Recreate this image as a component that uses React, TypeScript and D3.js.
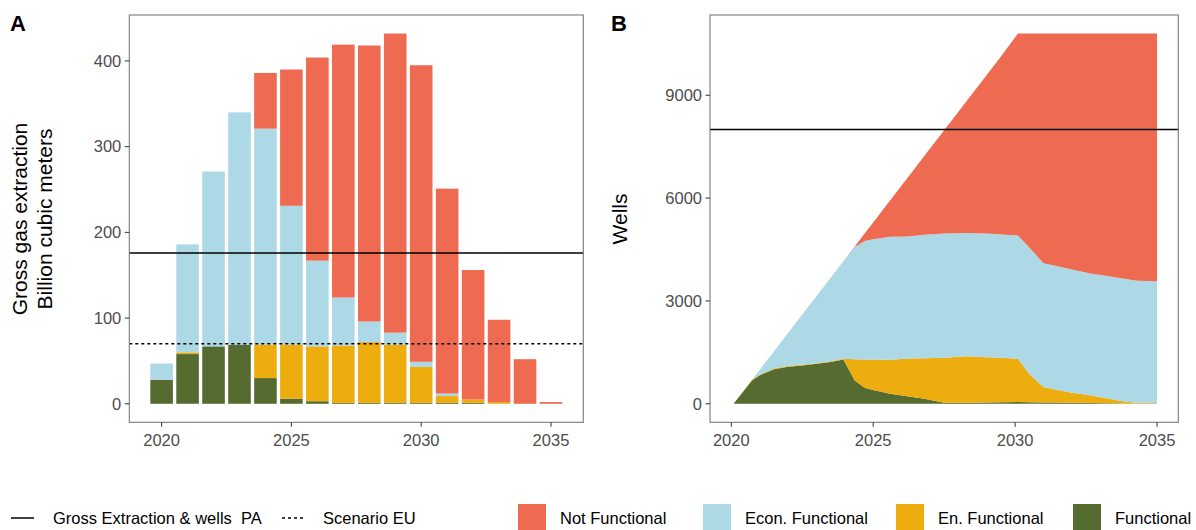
import React from 'react';
import * as d3 from 'd3';

// panel A: gas extraction per year (billion m3)
const barYears = [2020, 2021, 2022, 2023, 2024, 2025, 2026, 2027, 2028, 2029, 2030, 2031, 2032, 2033, 2034, 2035];
const barFunctional = [28, 58, 67, 69, 30, 6, 3, 1, 1, 1, 1, 1, 1, 0, 0, 0];
const barEnFunctional = [0, 2, 0, 0, 39, 63, 64, 67, 71, 68, 42, 8, 4, 2, 0, 0];
const barEconFunctional = [19, 126, 204, 271, 252, 162, 100, 56, 24, 14, 6, 3, 0, 0, 0, 0];
const barNotFunctional = [0, 0, 0, 0, 65, 159, 237, 295, 322, 349, 346, 239, 151, 96, 52, 2];

// panel B: wells
const wellYears = [2020.08, 2020.4, 2020.73, 2021, 2021.5, 2022, 2022.5, 2023, 2023.5, 2023.95, 2024.35, 2024.7, 2025, 2025.6, 2026.2, 2026.8, 2027.5, 2028.3, 2029, 2029.5, 2030.1, 2030.5, 2031, 2031.5, 2032, 2032.7, 2033.3, 2033.9, 2034.3, 2035];
const wellFunctional = [0, 340, 680, 830, 1010, 1080, 1120, 1165, 1220, 1290, 680, 467, 400, 292, 220, 146, 29, 30, 40, 45, 50, 45, 40, 35, 30, 25, 15, 8, 5, 5];
const wellEnFunctional = [0, 4, 19, 20, 20, 20, 20, 20, 20, 20, 620, 828, 890, 993, 1100, 1184, 1316, 1355, 1320, 1295, 1265, 825, 450, 365, 290, 215, 135, 52, 25, 15];
const wellEconFunctional = [0, 0, 0, 139, 497, 964, 1462, 1954, 2437, 2850, 3270, 3455, 3510, 3585, 3560, 3600, 3625, 3595, 3605, 3600, 3595, 3690, 3610, 3610, 3600, 3550, 3570, 3580, 3560, 3557];
const wellNotFunctional = [0, 0, 0, 0, 0, 0, 0, 0, 0, 0, 20, 216, 489, 1064, 1699, 2294, 3007, 3857, 4624, 5187, 5890, 6240, 6700, 6790, 6880, 7010, 7080, 7160, 7210, 7223];

const keys = ['Functional', 'En. Functional', 'Econ. Functional', 'Not Functional'];
const colors: Record<string, string> = {
  'Functional': '#556B2F',
  'En. Functional': '#EEAD0E',
  'Econ. Functional': '#ADD8E6',
  'Not Functional': '#EE6A50',
};
const legendOrder = ['Not Functional', 'Econ. Functional', 'En. Functional', 'Functional'];

const gasPA = 176;
const gasEU = 70;
const wellsPA = 8000;

const xTicks = [2020, 2025, 2030, 2035];
const gasTicks = [0, 100, 200, 300, 400];
const wellTicks = [0, 3000, 6000, 9000];

const FONT = '"Liberation Sans", Arial, sans-serif';
const TICK_COL = '#333333';
const LABEL_COL = '#4D4D4D';

const top = 15;
const bottom = 422.3;

function rows(xs: number[], a: number[], b: number[], c: number[], d: number[]) {
  return xs.map((x, i) => ({
    x,
    'Functional': a[i],
    'En. Functional': b[i],
    'Econ. Functional': c[i],
    'Not Functional': d[i],
  }));
}

function Frame({ x, y, xt, yt }: any) {
  const [x0, x1] = x.range();
  return (
    <g>
      <rect x={x0} y={top} width={x1 - x0} height={bottom - top} fill="none" stroke="#7a7a7a" strokeWidth={1.1} />
      {yt.map((t: number) => (
        <g key={'y' + t}>
          <line x1={x0 - 4.5} x2={x0} y1={y(t)} y2={y(t)} stroke={TICK_COL} strokeWidth={1} />
          <text x={x0 - 8} y={y(t)} dy="0.35em" textAnchor="end" fontSize={16.5} fill={LABEL_COL} fontFamily={FONT}>{t}</text>
        </g>
      ))}
      {xt.map((t: number) => (
        <g key={'x' + t}>
          <line x1={x(t)} x2={x(t)} y1={bottom} y2={bottom + 4.5} stroke={TICK_COL} strokeWidth={1} />
          <text x={x(t)} y={446} textAnchor="middle" fontSize={16.5} fill={LABEL_COL} fontFamily={FONT}>{t}</text>
        </g>
      ))}
    </g>
  );
}

export default function App() {
  // panel A
  const xA = d3.scaleLinear().domain([2018.755, 2036.245]).range([129.3, 583.3]);
  const yA = d3.scaleLinear().domain([-21.6, 453.6]).range([bottom, top]);
  const barData = rows(barYears, barFunctional, barEnFunctional, barEconFunctional, barNotFunctional);
  const barStack = d3.stack<any>().keys(keys)(barData);
  const bw = 0.87;

  // panel B
  const xB = d3.scaleLinear().domain([2019.25, 2035.75]).range([710, 1178.3]);
  const yB = d3.scaleLinear().domain([-540, 11340]).range([bottom, top]);
  const wellData = rows(wellYears, wellFunctional, wellEnFunctional, wellEconFunctional, wellNotFunctional);
  const wellStack = d3.stack<any>().keys(keys)(wellData);
  const area = d3.area<any>()
    .x((d) => xB(d.data.x))
    .y0((d) => yB(d[0]))
    .y1((d) => yB(d[1]));

  const legendKeyX = [518, 703, 896, 1073];

  return (
    <svg width={1196} height={530} style={{ position: 'absolute', left: 0, top: 0, background: '#fff' }} fontFamily={FONT}>
      <rect width={1196} height={530} fill="#fff" />

      {/* panel A */}
      <text x={10} y={31} fontSize={22} fontWeight="bold" fontFamily={FONT}>A</text>
      <text transform={`translate(27,219) rotate(-90)`} textAnchor="middle" fontSize={21} fontFamily={FONT}>Gross gas extraction</text>
      <text transform={`translate(52,219) rotate(-90)`} textAnchor="middle" fontSize={21} fontFamily={FONT}>Billion cubic meters</text>
      {barStack.map((s) => (
        <g key={s.key} fill={colors[s.key]}>
          {s.map((d, i) => (
            <rect key={i} x={xA(d.data.x - bw / 2)} width={xA(bw) - xA(0)} y={yA(d[1])} height={Math.max(0, yA(d[0]) - yA(d[1]))} />
          ))}
        </g>
      ))}
      <line x1={129.3} x2={583.3} y1={yA(gasPA)} y2={yA(gasPA)} stroke="#000" strokeWidth={1.5} />
      <line x1={129.3} x2={583.3} y1={yA(gasEU)} y2={yA(gasEU)} stroke="#000" strokeWidth={1.5} strokeDasharray="3,3" />
      <Frame x={xA} y={yA} xt={xTicks} yt={gasTicks} />

      {/* panel B */}
      <text x={611} y={31} fontSize={22} fontWeight="bold" fontFamily={FONT}>B</text>
      <text transform={`translate(627,219) rotate(-90)`} textAnchor="middle" fontSize={21} fontFamily={FONT}>Wells</text>
      {wellStack.map((s) => (
        <path key={s.key} d={area(s) || ''} fill={colors[s.key]} />
      ))}
      <line x1={710} x2={1178.3} y1={yB(wellsPA)} y2={yB(wellsPA)} stroke="#000" strokeWidth={1.5} />
      <Frame x={xB} y={yB} xt={xTicks} yt={wellTicks} />

      {/* legend */}
      <line x1={11} x2={34} y1={518} y2={518} stroke="#000" strokeWidth={1.5} />
      <text x={53} y={524} fontSize={16.5} fontFamily={FONT} style={{ whiteSpace: 'pre' }}>Gross Extraction &amp; wells  PA</text>
      <line x1={282} x2={304} y1={518} y2={518} stroke="#000" strokeWidth={1.5} strokeDasharray="3,3" />
      <text x={323} y={524} fontSize={16.5} fontFamily={FONT}>Scenario EU</text>
      {legendOrder.map((k, i) => (
        <g key={k}>
          <rect x={legendKeyX[i]} y={504} width={28} height={28} fill={colors[k]} />
          <text x={legendKeyX[i] + 42} y={524} fontSize={16.5} fontFamily={FONT}>{k}</text>
        </g>
      ))}
    </svg>
  );
}
